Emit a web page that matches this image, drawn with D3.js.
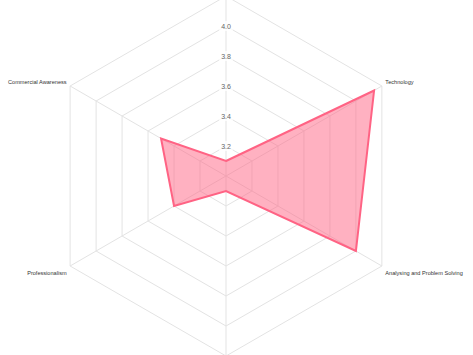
<!DOCTYPE html>
<html>
<head>
<meta charset="utf-8">
<script src="https://cdn.jsdelivr.net/npm/d3@7"></script>
<style>
html,body{margin:0;padding:0;background:#fff;}
svg{display:block;}
</style>
</head>
<body>
<svg id="chart" width="473" height="355"></svg>
<script>
const categories = ["Leadership", "Technology", "Analysing and Problem Solving", "Teamwork", "Professionalism", "Commercial Awareness"];
const values = [3.1, 4.14, 4.0, 3.1, 3.4, 3.5];
const tickValues = [3.2, 3.4, 3.6, 3.8, 4.0, 4.2];
const tickLabels = ["3.2", "3.4", "3.6", "3.8", "4.0", "4.2"];
const scaleMin = 3.0, scaleMax = 4.2;

const W = 473, H = 355;
const svg = d3.select("#chart");
const cx = 226, cy = 176, R = 180;
const r = d3.scaleLinear().domain([scaleMin, scaleMax]).range([0, R]);
const n = categories.length;
const ang = i => -Math.PI / 2 + i * 2 * Math.PI / n;
const pt = (i, rad) => [cx + rad * Math.cos(ang(i)), cy + rad * Math.sin(ang(i))];

const grid = svg.append("g");
tickValues.forEach(t => {
  const pts = d3.range(n).map(i => pt(i, r(t)));
  grid.append("polygon")
    .attr("points", pts.map(p => p.join(",")).join(" "))
    .attr("fill", "none").attr("stroke", "#e3e3e3").attr("stroke-width", 1);
});
d3.range(n).forEach(i => {
  const p = pt(i, R);
  grid.append("line").attr("x1", cx).attr("y1", cy).attr("x2", p[0]).attr("y2", p[1])
    .attr("stroke", "#e3e3e3").attr("stroke-width", 1);
});

// tick labels with backdrop (only those that fall inside the canvas)
const ticks = svg.append("g").attr("font-family", "Liberation Sans, Arial, Helvetica, sans-serif")
  .attr("font-size", 7).attr("fill", "#666");
tickValues.forEach((t, k) => {
  const y = cy - r(t);
  if (y - 5 < 0) return;
  const txt = ticks.append("text").attr("x", cx).attr("y", y).attr("text-anchor", "middle")
    .attr("dominant-baseline", "central").text(tickLabels[k]);
  const w = txt.node().getComputedTextLength();
  ticks.insert("rect", "text").attr("x", cx - w / 2 - 2).attr("y", y - 5).attr("width", w + 4).attr("height", 10)
    .attr("fill", "rgba(255,255,255,0.75)");
});

// data polygon
const dpts = values.map((v, i) => pt(i, r(v)));
svg.append("polygon")
  .attr("points", dpts.map(p => p.join(",")).join(" "))
  .attr("fill", "rgba(255,99,132,0.5)")
  .attr("stroke", "rgb(255,99,132)").attr("stroke-width", 2).attr("stroke-linejoin", "miter");

// point labels (those beyond the canvas edge are clipped away, as in the original)
const labels = svg.append("g").attr("font-family", "Liberation Sans, Arial, Helvetica, sans-serif")
  .attr("font-size", 5.6).attr("fill", "#333");
categories.forEach((c, i) => {
  const a = ang(i);
  const p = pt(i, R + 4);
  const cosA = Math.cos(a), sinA = Math.sin(a);
  let anchor = Math.abs(cosA) < 0.01 ? "middle" : (cosA > 0 ? "start" : "end");
  let dy = sinA < -0.01 ? -2 : (sinA > 0.01 ? 5 : 0);
  const y = p[1] + dy;
  if (y < 4 || y > H - 4) return;
  labels.append("text").attr("x", p[0]).attr("y", y)
    .attr("text-anchor", anchor).attr("dominant-baseline", "central").text(c);
});
</script>
</body>
</html>
